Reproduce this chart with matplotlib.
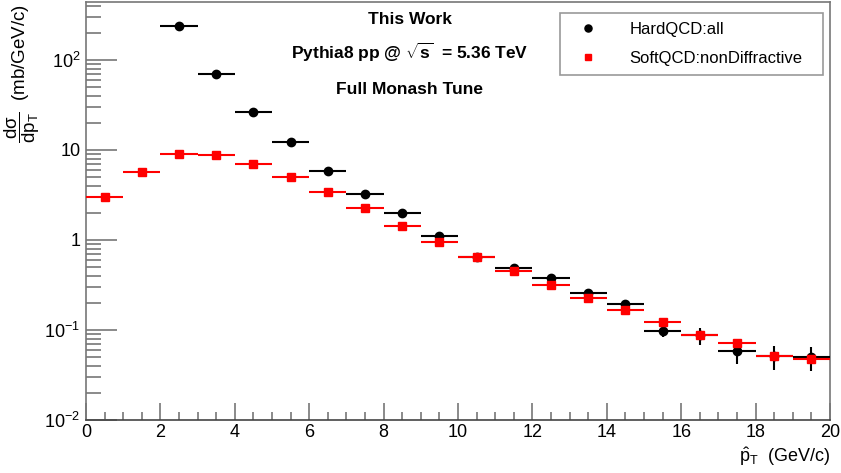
import matplotlib as mpl
import matplotlib.pyplot as plt
import numpy as np

mpl.rcParams['font.family'] = 'Liberation Sans'
mpl.rcParams['mathtext.fontset'] = 'custom'
mpl.rcParams['mathtext.rm'] = 'Liberation Sans'
mpl.rcParams['mathtext.it'] = 'Liberation Sans:italic'
mpl.rcParams['mathtext.bf'] = 'Liberation Sans:bold'

# pT-hat bin centres (1 GeV/c bins)
hard_pt = [2.5, 3.5, 4.5, 5.5, 6.5, 7.5, 8.5, 9.5, 10.5, 11.5, 12.5, 13.5, 14.5,
           15.5, 16.5, 17.5, 18.5, 19.5]
hard_xsec = [239, 70, 26.7, 12.2, 5.8, 3.2, 2.0, 1.12, 0.64, 0.485, 0.375, 0.26,
             0.195, 0.098, 0.087, 0.058, 0.051, 0.050]
hard_err = [3, 1, 0.4, 0.2, 0.1, 0.06, 0.04, 0.03, 0.02, 0.015, 0.013, 0.011,
            0.01, 0.015, 0.019, 0.016, 0.015, 0.015]

soft_pt = [0.5, 1.5, 2.5, 3.5, 4.5, 5.5, 6.5, 7.5, 8.5, 9.5, 10.5, 11.5, 12.5,
           13.5, 14.5, 15.5, 16.5, 17.5, 18.5, 19.5]
soft_xsec = [3.0, 5.7, 9.0, 8.85, 7.0, 5.05, 3.4, 2.25, 1.42, 0.95, 0.65, 0.456,
             0.316, 0.225, 0.167, 0.122, 0.087, 0.072, 0.052, 0.047]
soft_err = [0.03, 0.05, 0.08, 0.08, 0.06, 0.05, 0.04, 0.03, 0.02, 0.015, 0.012,
            0.01, 0.008, 0.007, 0.006, 0.006, 0.005, 0.005, 0.004, 0.004]

fig = plt.figure(figsize=(8.41, 4.73), dpi=100)
ax = fig.add_axes([86/841, 1-420/473, (830-86)/841, (420-2)/473])

ax.errorbar(hard_pt, hard_xsec, xerr=0.5, yerr=hard_err, fmt='o', color='black',
            ms=6, elinewidth=1.5, capsize=0, label='HardQCD:all', zorder=3)
ax.errorbar(soft_pt, soft_xsec, xerr=0.5, yerr=soft_err, fmt='s', color='#ff0000',
            ms=5.5, elinewidth=1.5, capsize=0, label='SoftQCD:nonDiffractive', zorder=4)

ax.set_yscale('log')
ax.set_xlim(0, 20)
ax.set_ylim(1e-2, 440)

ax.set_xticks(np.arange(0, 21, 2))
ax.set_xticks(np.arange(0, 20.01, 0.5), minor=True)
ax.set_yticks([1e-2, 1e-1, 1, 10, 100])
ax.set_yticklabels([r'$10^{-2}$', r'$10^{-1}$', '1', '10', r'$10^{2}$'])
ax.yaxis.set_minor_locator(mpl.ticker.LogLocator(base=10, subs=np.arange(2, 10)))
ax.yaxis.set_minor_formatter(mpl.ticker.NullFormatter())

ax.tick_params(which='both', direction='in', colors='#777777', labelcolor='black',
               labelsize=13, width=1.2)
ax.tick_params(axis='y', which='major', length=22, pad=4)
ax.tick_params(axis='y', which='minor', length=11)
ax.tick_params(axis='x', which='major', length=12, pad=3)
ax.tick_params(axis='x', which='minor', length=6)
for s in ax.spines.values():
    s.set_color('#777777')
    s.set_linewidth(1.2)
ax.spines['bottom'].set_color('#444444')

# axis titles, ROOT style (right / top aligned)
fig.text(830/841, 1-462/473, r'$\hat{\mathrm{p}}_{\mathrm{T}}$  (GeV/c)', ha='right',
         va='baseline', fontsize=13)
fig.text(22/841, 1-4/473,
         r'$\dfrac{\mathrm{d\sigma}}{\mathrm{dp}_{\mathrm{T}}}$  (mb/GeV/c)',
         rotation=90, ha='center', va='top', fontsize=13.5)

ax.text(410/841, 1-20/473, 'This Work', transform=fig.transFigure, ha='center',
        va='center', fontsize=12.5, fontweight='bold')
ax.text(410/841, 1-52/473, r'Pythia8 pp @ $\mathbf{\sqrt{s}}$  = 5.36 TeV',
        transform=fig.transFigure, ha='center', va='center', fontsize=12.5,
        fontweight='bold')
ax.text(410/841, 1-89/473, 'Full Monash Tune', transform=fig.transFigure,
        ha='center', va='center', fontsize=12.5, fontweight='bold')

handles, labels = ax.get_legend_handles_labels()
handles = [h[0] for h in handles]
leg = ax.legend(handles, labels, loc='center left',
                bbox_to_anchor=(560/841, 1-78/473, (823-560)/841, 68/473),
                bbox_transform=fig.transFigure, mode='expand', fontsize=12,
                fancybox=False, edgecolor='#999999', framealpha=1,
                handletextpad=1.4, borderpad=0.55, labelspacing=0.85,
                handlelength=2.2, borderaxespad=0, markerscale=0.85)
leg.get_frame().set_linewidth(1.2)

plt.savefig('out.png', dpi=100)
plt.close(fig)
